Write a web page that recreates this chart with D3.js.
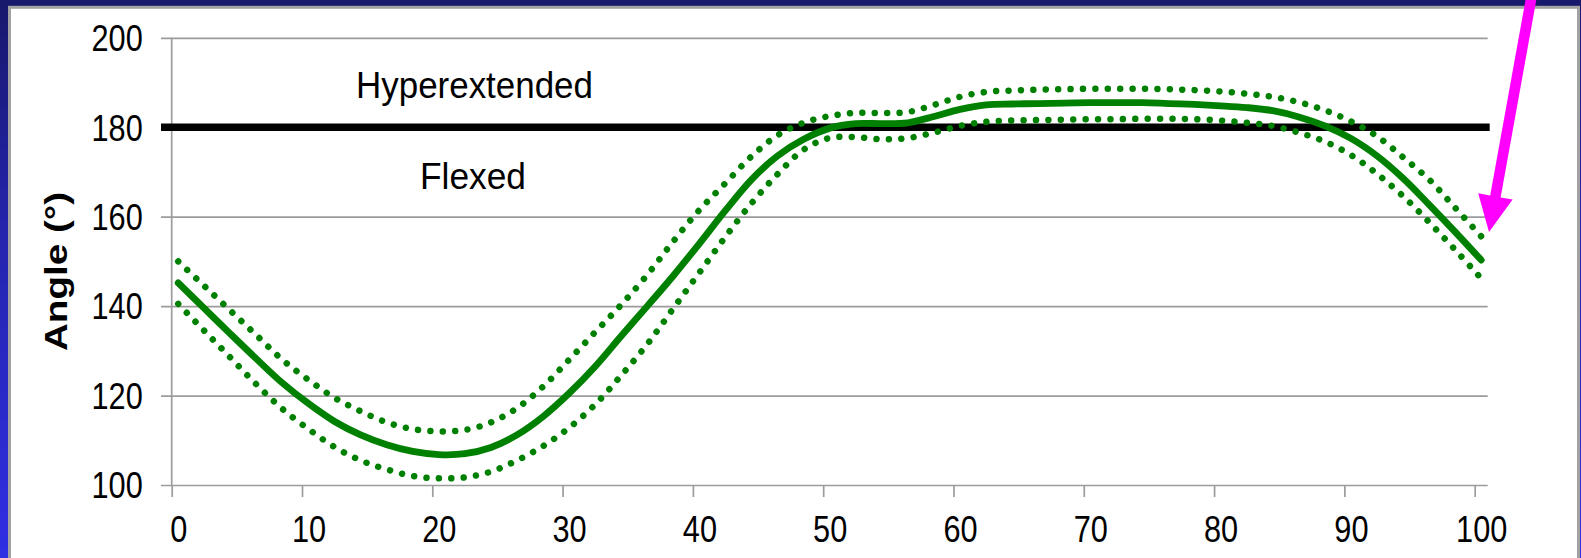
<!DOCTYPE html>
<html>
<head>
<meta charset="utf-8">
<script src="https://cdn.jsdelivr.net/npm/d3@7"></script>
<style>
  html, body { margin: 0; padding: 0; background: #1c1c7c; }
  svg { display: block; }
  text { font-family: Arial, "Liberation Sans", sans-serif; fill: #000; }
</style>
</head>
<body>
<svg id="chart" width="1581" height="558"></svg>
<script>
// Knee angle over the gait cycle: mean with upper/lower bands
const cyclePct = [0, 2, 4, 6, 8, 10, 12, 14, 16, 18, 20, 22, 24, 26, 28, 30, 32, 34, 36, 38, 40,
  42, 44, 46, 48, 50, 52, 54, 56, 58, 60, 62, 64, 66, 68, 70, 72, 74, 76, 78, 80,
  82, 84, 86, 88, 90, 92, 94, 96, 98, 100];

const meanAngle = [145.2, 139.5, 133.8, 128.2, 122.8, 118.2, 114.2, 111.2, 109.0, 107.5, 106.8,
  107.0, 108.4, 111.2, 115.3, 120.5, 126.5, 133.3, 140.0, 146.8, 154.0,
  161.4, 168.3, 173.6, 177.3, 179.8, 180.8, 180.8, 181.0, 182.4, 184.0,
  185.0, 185.2, 185.3, 185.4, 185.5, 185.5, 185.5, 185.3, 185.1, 184.8,
  184.4, 183.7, 182.3, 180.3, 177.5, 173.6, 168.6, 162.7, 156.6, 150.3];

const upperAngle = [150.0, 144.5, 139.0, 133.5, 128.0, 123.5, 119.5, 116.5, 114.0, 112.5, 112.0,
  112.3, 114.0, 117.2, 122.0, 128.0, 134.2, 140.3, 147.0, 154.5, 161.5,
  167.5, 173.5, 178.2, 181.0, 182.5, 183.2, 183.2, 183.4, 185.0, 186.8,
  187.9, 188.2, 188.4, 188.5, 188.6, 188.6, 188.6, 188.5, 188.3, 188.0,
  187.5, 186.8, 185.6, 183.8, 181.3, 178.0, 173.3, 168.3, 162.0, 155.6];

const lowerAngle = [140.5, 134.5, 128.5, 122.5, 117.0, 112.5, 108.5, 105.5, 103.5, 102.0, 101.5,
  101.7, 103.0, 105.5, 108.7, 112.8, 118.0, 124.5, 131.5, 139.5, 147.5,
  155.5, 163.0, 169.5, 175.0, 177.6, 177.8, 177.3, 177.6, 178.8, 180.3,
  181.2, 181.5, 181.6, 181.7, 181.8, 181.8, 181.9, 181.9, 181.8, 181.5,
  181.0, 180.3, 178.8, 176.8, 173.8, 169.6, 164.6, 158.8, 152.6, 146.2];

const xTickLabels = [0, 10, 20, 30, 40, 50, 60, 70, 80, 90, 100];
const yTickLabels = [100, 120, 140, 160, 180, 200];
const neutralAngle = 180;
const yTitle = "Angle (°)";
const upperZoneLabel = "Hyperextended";
const lowerZoneLabel = "Flexed";

const svg = d3.select("#chart");
const W = 1581, H = 558;

// slide-style frame
const defs = svg.append("defs");
const bg = defs.append("linearGradient").attr("id", "bg").attr("x1", 0).attr("y1", 0).attr("x2", 0).attr("y2", 1);
bg.append("stop").attr("offset", "0%").attr("stop-color", "#18186c");
bg.append("stop").attr("offset", "40%").attr("stop-color", "#2424ac");
bg.append("stop").attr("offset", "100%").attr("stop-color", "#2f2fe4");
svg.append("rect").attr("width", W).attr("height", H).attr("fill", "url(#bg)");
svg.append("rect").attr("x", 9.5).attr("y", 7.3).attr("width", 1569).attr("height", H)
  .attr("fill", "#fff").attr("stroke", "#a2a2a2").attr("stroke-width", 3);

// scales: categories 0..100 sit in the middle of their slots
const x = d3.scaleLinear().domain([-0.5, 100.5]).range([171.7, 1487.7]);
const y = d3.scaleLinear().domain([100, 200]).range([485, 37.8]);
const plotLeft = x(-0.5), plotRight = x(100.5);
const tickOut = 10.7;
const sx = 0.83; // narrow glyphs

// horizontal gridlines (they also form the outward y ticks and the x axis line)
svg.append("g")
  .attr("transform", `translate(${plotLeft - tickOut},0)`)
  .call(d3.axisRight(y).tickValues(yTickLabels).tickSize(plotRight - plotLeft + tickOut).tickFormat(""))
  .call(g => g.select(".domain").remove())
  .call(g => g.selectAll("line").attr("stroke", "#9c9c9c").attr("stroke-width", 1.7));

// y axis line
svg.append("line")
  .attr("x1", plotLeft).attr("x2", plotLeft)
  .attr("y1", y(200)).attr("y2", y(100))
  .attr("stroke", "#9c9c9c").attr("stroke-width", 1.7);

// x tick marks on slot boundaries
svg.append("g")
  .attr("transform", `translate(0,${y(100)})`)
  .call(d3.axisBottom(x).tickValues(xTickLabels.map(v => v - 0.5)).tickSize(12).tickSizeOuter(0).tickFormat(""))
  .call(g => g.select(".domain").remove())
  .call(g => g.selectAll("line").attr("stroke", "#9c9c9c").attr("stroke-width", 1.7));

// x tick labels
svg.append("g")
  .attr("transform", `translate(0,${y(100)})`)
  .call(d3.axisBottom(x).tickValues(xTickLabels).tickSize(0).tickPadding(31).tickFormat(d3.format("d")))
  .call(g => g.select(".domain").remove())
  .call(g => g.selectAll("text")
    .attr("font-size", 37).attr("fill", "#000")
    .attr("font-family", "Arial, 'Liberation Sans', sans-serif")
    .attr("transform", `scale(${sx},1)`));

// y tick labels
const yPad = 29;
svg.append("g")
  .attr("transform", `translate(${plotLeft},0)`)
  .call(d3.axisLeft(y).tickValues(yTickLabels).tickSize(0).tickPadding(yPad).tickFormat(d3.format("d")))
  .call(g => g.select(".domain").remove())
  .call(g => g.selectAll("text")
    .attr("font-size", 37).attr("fill", "#000")
    .attr("font-family", "Arial, 'Liberation Sans', sans-serif")
    .attr("x", -yPad / sx).attr("dy", "0.345em")
    .attr("transform", `scale(${sx},1)`));

// y axis title
svg.append("text")
  .attr("transform", `translate(66.5,${271.5}) scale(0.8,1) rotate(-90)`)
  .attr("text-anchor", "middle")
  .attr("font-size", 38.6).attr("font-weight", "bold")
  .text(yTitle);

// neutral (180°) reference line
svg.append("line")
  .attr("x1", plotLeft - tickOut).attr("x2", plotRight + 2)
  .attr("y1", y(neutralAngle)).attr("y2", y(neutralAngle))
  .attr("stroke", "#000").attr("stroke-width", 7.5);

// zone labels
svg.append("text")
  .attr("x", 356).attr("y", 97.5)
  .attr("font-size", 37.5).attr("textLength", 237).attr("lengthAdjust", "spacingAndGlyphs")
  .text(upperZoneLabel);
svg.append("text")
  .attr("x", 420).attr("y", 189.3)
  .attr("font-size", 37.5).attr("textLength", 106).attr("lengthAdjust", "spacingAndGlyphs")
  .text(lowerZoneLabel);

// curves
const line = vals => d3.line()
  .x((d, i) => x(cyclePct[i]))
  .y(d => y(d))
  .curve(d3.curveCatmullRom.alpha(0.5))(vals);

const green = "#008000";
[upperAngle, lowerAngle].forEach(vals => {
  svg.append("path")
    .attr("d", line(vals))
    .attr("fill", "none").attr("stroke", green)
    .attr("stroke-width", 6.5).attr("stroke-linecap", "round")
    .attr("stroke-dasharray", "0.01 12.4");
});
svg.append("path")
  .attr("d", line(meanAngle))
  .attr("fill", "none").attr("stroke", green)
  .attr("stroke-width", 6.8).attr("stroke-linecap", "round");

// pointer arrow toward the end of the cycle
const tip = [x(100.6), y(156.6)];
const tail = [1532, -6];
const ang = Math.atan2(tip[1] - tail[1], tip[0] - tail[0]);
const ux = Math.cos(ang), uy = Math.sin(ang);
const px = -uy, py = ux;
const headLen = 36, headHalf = 17.5, shaftHalf = 5.3;
const bx = tip[0] - ux * headLen, by = tip[1] - uy * headLen;
const arrowPts = [
  [tail[0] + px * shaftHalf, tail[1] + py * shaftHalf],
  [bx + px * shaftHalf, by + py * shaftHalf],
  [bx + px * headHalf, by + py * headHalf],
  tip,
  [bx - px * headHalf, by - py * headHalf],
  [bx - px * shaftHalf, by - py * shaftHalf],
  [tail[0] - px * shaftHalf, tail[1] - py * shaftHalf]
];
svg.append("path")
  .attr("d", "M" + arrowPts.map(p => p.join(",")).join("L") + "Z")
  .attr("fill", "#ff00ff");
</script>
</body>
</html>
